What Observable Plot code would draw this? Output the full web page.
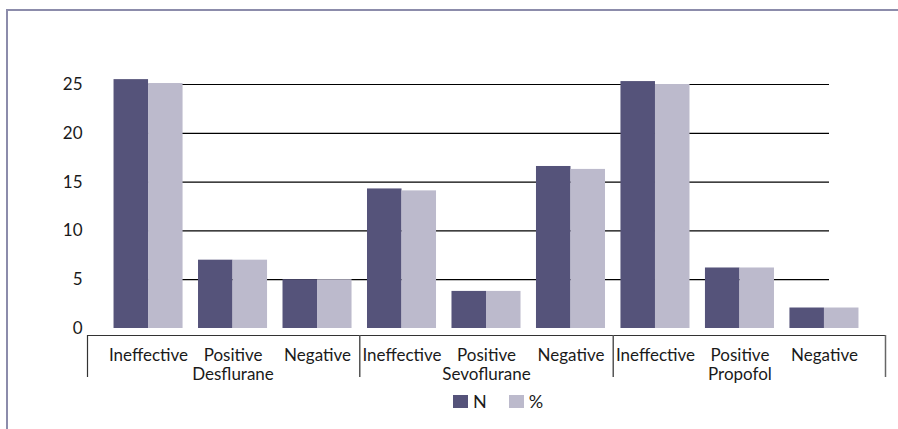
<!DOCTYPE html>
<html><head><meta charset="utf-8">
<script src="https://cdn.jsdelivr.net/npm/d3@7"></script>
<script src="https://cdn.jsdelivr.net/npm/@observablehq/plot@0.6"></script>
<style>
html,body{margin:0;padding:0;background:#fff;}
body{width:898px;height:429px;position:relative;overflow:hidden;font-family:Lato,"Open Sans",sans-serif;}
#frame{position:absolute;left:6px;top:9px;width:900px;height:430px;border-top:2px solid #8c8cab;border-left:2px solid #8c8cab;}
#chart{position:absolute;left:0;top:0;}
#legend{position:absolute;top:394px;left:453px;display:flex;align-items:center;font-size:18px;color:#1a1a1a;line-height:15px;}
.sw{width:15px;height:13px;display:inline-block;}
</style></head><body>
<div id="frame"></div>
<div id="chart"></div>
<div id="legend"></div>
<script>
// ---- data ----
const groups = ["Desflurane", "Sevoflurane", "Propofol"];
const outcomes = ["Ineffective", "Positive", "Negative"];
const nValues   = [25.5, 7.0, 5.0, 14.3, 3.8, 16.6, 25.3, 6.2, 2.1];
const pctValues = [25.1, 7.0, 5.0, 14.1, 3.8, 16.3, 25.0, 6.2, 2.1];
const yTicks = [0, 5, 10, 15, 20, 25];
const seriesNames = ["N", "%"];
const seriesColors = ["#55537a", "#bcbacc"];

// ---- table ----
const rows = [];
groups.forEach((g, gi) => outcomes.forEach((o, oi) => {
  const i = gi * outcomes.length + oi;
  rows.push({key: g + " " + o, group: g, outcome: o, N: nValues[i], pct: pctValues[i]});
}));
const keys = rows.map(d => d.key);
const groupMid = groups.map((g, gi) => keys[gi * outcomes.length + 1]);
const groupStarts = groups.slice(1).map((g, gi) => keys[(gi + 1) * outcomes.length]);

// ---- layout ----
const W = 898, H = 390, ML = 87, MR = 13, MT = 84, MB = 13;
const pIn = 0.183, pOut = 0.314;
const step = (W - ML - MR) / (keys.length - pIn + 2 * pOut);
const bw = step * (1 - pIn);
const edge = bw / 2 + step * pOut;
const font = "Lato, 'Open Sans', sans-serif";
const ink = "#1a1a1a";

const chart = Plot.plot({
  width: W, height: H,
  marginLeft: ML, marginRight: MR, marginTop: MT, marginBottom: MB,
  style: {fontFamily: font, fontSize: "17px", color: ink, background: "transparent"},
  x: {domain: keys, paddingInner: pIn, paddingOuter: pOut, round: false, axis: null},
  y: {domain: [0, 25], insetBottom: 49, ticks: yTicks, tickSize: 0, tickPadding: 5, tickFormat: d => d, label: null, axis: "left"},
  marks: [
    Plot.ruleY(yTicks.filter(t => t > 0), {stroke: "#000", strokeWidth: 1.2, insetLeft: 28, insetRight: 56}),
    Plot.barY(rows, {x: "key", y: "N", fill: seriesColors[0], insetRight: bw / 2}),
    Plot.barY(rows, {x: "key", y: "pct", fill: seriesColors[1], insetLeft: bw / 2}),
    // category box
    Plot.ruleY([0], {dy: 7, stroke: "#333", strokeWidth: 1.2}),
    Plot.ruleX([keys[0]], {dx: -edge, stroke: "#333", strokeWidth: 1.2, insetTop: 251}),
    Plot.ruleX([keys[keys.length - 1]], {dx: edge, stroke: "#666", strokeWidth: 1.5, insetTop: 251}),
    Plot.ruleX(groupStarts, {dx: -step / 2, stroke: "#555", strokeWidth: 1.5, insetTop: 251}),
    Plot.text(rows, {x: "key", text: "outcome", frameAnchor: "bottom", dy: -22, lineAnchor: "middle", fill: ink, fontSize: 17}),
    Plot.text(groups, {x: (d, i) => groupMid[i], text: d => d, frameAnchor: "bottom", dy: -3, lineAnchor: "middle", fill: ink, fontSize: 17})
  ]
});
document.getElementById("chart").appendChild(chart);

// ---- legend ----
const lg = document.getElementById("legend");
seriesNames.forEach((name, i) => {
  const sw = document.createElement("span");
  sw.className = "sw"; sw.style.background = seriesColors[i];
  const t = document.createElement("span");
  t.textContent = name;
  t.style.marginLeft = "5px";
  t.style.marginRight = i === 0 ? "22px" : "0";
  lg.appendChild(sw); lg.appendChild(t);
});
</script>
</body></html>
